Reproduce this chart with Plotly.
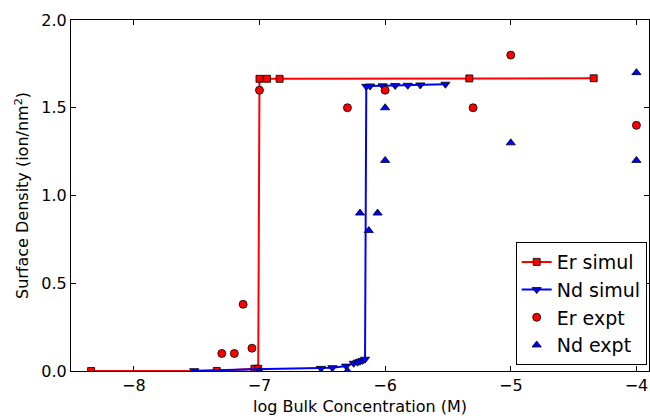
import plotly.graph_objects as go

# Er simulation
er_sim_x = [-8.34, -7.34, -7.04, -7.01, -7.0, -6.94, -6.84, -5.33, -4.34]
er_sim_y = [0.0, 0.0, 0.013, 0.013, 1.665, 1.665, 1.665, 1.667, 1.668]

# Nd simulation
nd_sim_x = [-7.52, -6.51, -6.42, -6.31, -6.25, -6.22, -6.2, -6.18, -6.16,
            -6.15, -6.12, -6.02, -5.92, -5.82, -5.72, -5.52]
nd_sim_y = [0.002, 0.015, 0.019, 0.028, 0.044, 0.05, 0.055, 0.06, 0.067,
            1.622, 1.624, 1.625, 1.627, 1.628, 1.63, 1.634]

# Er experiment
er_exp_x = [-7.3, -7.2, -7.13, -7.06, -7.0, -6.3, -6.0, -5.3, -5.0, -4.0]
er_exp_y = [0.1, 0.1, 0.38, 0.13, 1.6, 1.5, 1.6, 1.5, 1.8, 1.4]

# Nd experiment
nd_exp_x = [-7.0, -6.3, -6.2, -6.13, -6.06, -6.0, -6.0, -5.0, -4.0, -4.0]
nd_exp_y = [0.0, 0.0, 0.9, 0.8, 0.9, 1.2, 1.5, 1.3, 1.7, 1.2]

x_tick_vals = [-8, -7, -6, -5, -4]
x_tick_text = ["\u22128", "\u22127", "\u22126", "\u22125", "\u22124"]
y_tick_vals = [0.0, 0.5, 1.0, 1.5, 2.0]
y_tick_text = ["0.0", "0.5", "1.0", "1.5", "2.0"]

edge = dict(color="black", width=0.8)

fig = go.Figure()
fig.add_trace(go.Scatter(
    x=er_sim_x, y=er_sim_y, mode="lines+markers", name="Er simul",
    line=dict(color="#ff0000", width=2),
    marker=dict(symbol="square", size=7, color="#ff0000", line=edge)))
fig.add_trace(go.Scatter(
    x=nd_sim_x, y=nd_sim_y, mode="lines+markers", name="Nd simul",
    line=dict(color="#0000ff", width=2),
    marker=dict(symbol="triangle-down", size=8, color="#0000ff", line=edge)))
fig.add_trace(go.Scatter(
    x=er_exp_x, y=er_exp_y, mode="markers", name="Er expt",
    marker=dict(symbol="circle", size=8, color="#ff0000", line=edge)))
fig.add_trace(go.Scatter(
    x=nd_exp_x, y=nd_exp_y, mode="markers", name="Nd expt",
    marker=dict(symbol="triangle-up", size=8, color="#0000ff", line=edge)))

axis_common = dict(
    showline=True, linecolor="black", linewidth=1, mirror="ticks",
    ticks="inside", ticklen=5, tickwidth=1, tickcolor="black",
    showgrid=False, zeroline=False, automargin=False,
    tickfont=dict(family="DejaVu Sans", size=16, color="black"),
)

fig.update_layout(
    width=650, height=420,
    margin=dict(l=71, r=1, t=20, b=49),
    paper_bgcolor="white", plot_bgcolor="white",
    font=dict(family="DejaVu Sans", size=16, color="black"),
    xaxis=dict(range=[-8.5, -3.9], tickvals=x_tick_vals, ticktext=x_tick_text,
               title=dict(text="log Bulk Concentration (M)", standoff=6,
                          font=dict(size=16)),
               **axis_common),
    yaxis=dict(range=[0, 2.0], tickvals=y_tick_vals, ticktext=y_tick_text,
               title=dict(text="Surface Density (ion/nm<sup>2</sup>)", standoff=8,
                          font=dict(size=16)),
               **axis_common),
    legend=dict(x=0.996, y=0.017, xanchor="right", yanchor="bottom",
                bgcolor="white", bordercolor="black", borderwidth=1,
                font=dict(size=19, family="DejaVu Sans"),
                tracegroupgap=0),
    showlegend=True,
)

fig.write_html("out.html", config={"displayModeBar": False},
               post_script="document.body.style.margin='0';")
